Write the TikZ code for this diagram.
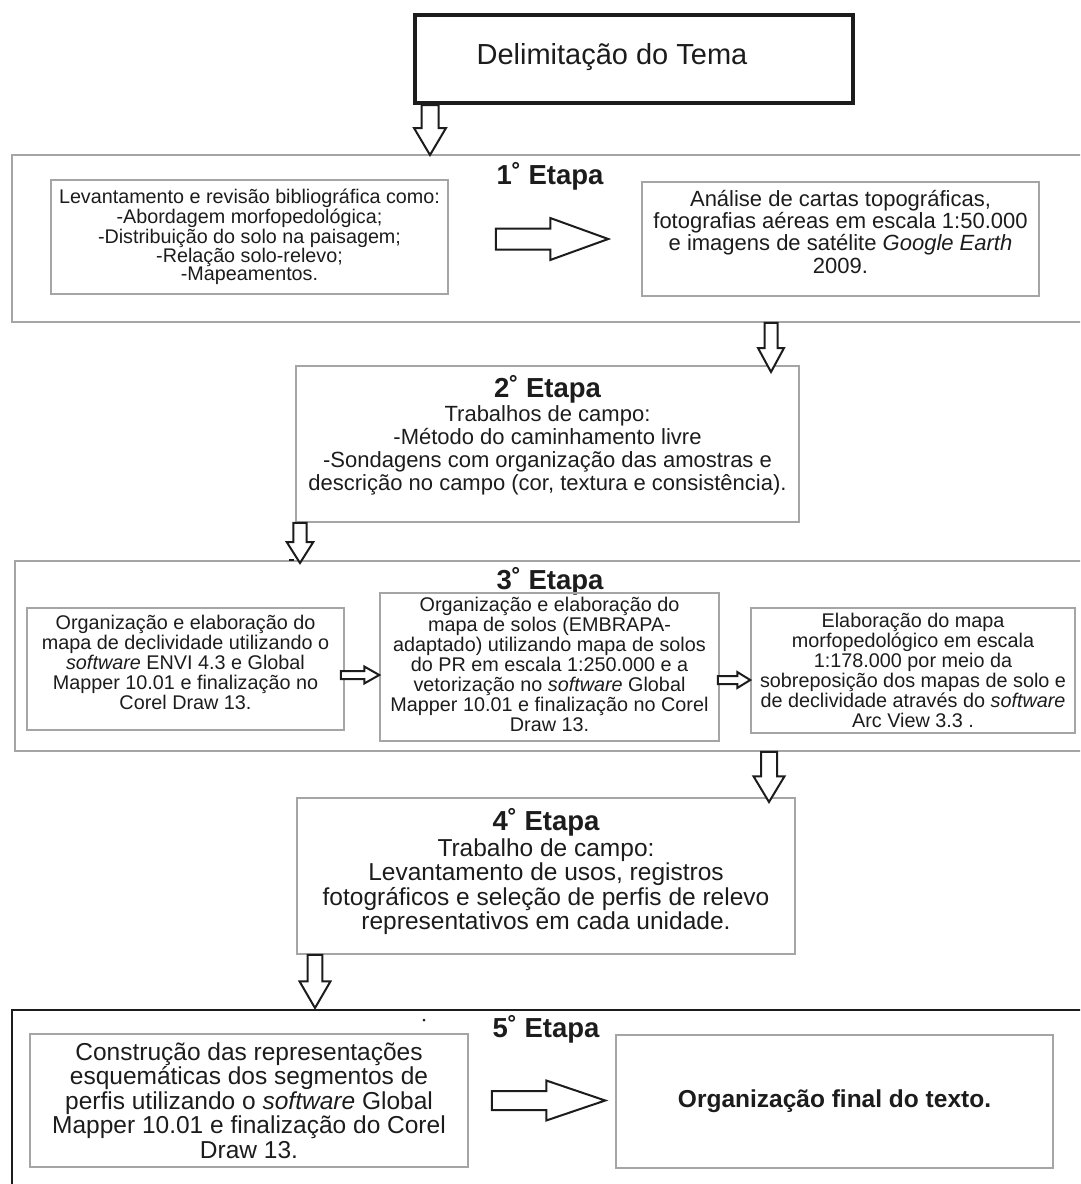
\documentclass[tikz,border=0pt]{standalone}
\usepackage{fontspec}
\setmainfont{Liberation Sans}
\usetikzlibrary{positioning,calc}

\definecolor{ink}{RGB}{28,28,28}
\definecolor{rule}{RGB}{165,165,165}

\newcommand{\flowdown}[5]{%
  \draw[hollow] ($(#1)+(-#3,0)$) -- ($(#2)+(-#3,-#5)$) -- ($(#2)+(-#4,-#5)$) -- (#2)
    -- ($(#2)+(#4,-#5)$) -- ($(#2)+(#3,-#5)$) -- ($(#1)+(#3,0)$) -- cycle;}
\newcommand{\flowright}[5]{%
  \draw[hollow] ($(#1)+(0,-#3)$) -- ($(#2)+(-#5,-#3)$) -- ($(#2)+(-#5,-#4)$) -- (#2)
    -- ($(#2)+(-#5,#4)$) -- ($(#2)+(-#5,#3)$) -- ($(#1)+(0,#3)$) -- cycle;}

\tikzset{
  txt/.style={inner sep=0pt, align=center, text=ink},
  box/.style={txt, draw=rule, line width=1.5pt},
  etapa/.style={inner sep=0pt, text=ink, font=\fontsize{27.5}{30}\selectfont\bfseries},
  hollow/.style={draw=ink, line width=2pt, fill=white, line join=miter},
}

\begin{document}
\begin{tikzpicture}[x=1pt,y=-1pt]
\useasboundingbox (0,0) rectangle (1080,1184);
\clip (0,0) rectangle (1080,1184);

\node[draw=ink, line width=4pt, minimum width=438pt, minimum height=88pt, inner sep=0pt] (tema) at (634,59) {};
\node[txt, font=\fontsize{29}{32}\selectfont] (tematxt) at (612,57) {Delimitação do Tema};

% 1a etapa
\node[box, minimum width=1088pt, minimum height=167pt] (s1) at (556,238.5) {};
\node[etapa] (t1) at (550,176) {1˚ Etapa};
\node[box, minimum width=397pt, minimum height=114pt, font=\fontsize{19.75}{18}\selectfont] (b1a) at (249.5,237)
  {Levantamento e revisão bibliográfica como:\\-Abordagem morfopedológica;\\-Distribuição do solo na paisagem;\\-Relação solo-relevo;\\-Mapeamentos.};
\node[box, minimum width=397pt, minimum height=114pt, text depth=15pt, font=\fontsize{22}{22.3}\selectfont] (b1b) at (840.5,239)
  {Análise de cartas topográficas,\\fotografias aéreas em escala 1:50.000\\e imagens de satélite \textit{Google Earth}\\2009.};
\coordinate (h1s) at ($(b1a.east)+(47,2)$);
\coordinate (h1e) at ($(b1b.west)+(-33,0)$);
\flowright{h1s}{h1e}{10.5}{21}{58}

% 2a etapa
\node[box, minimum width=503pt, minimum height=156pt] (s2) at (547.5,444) {};
\node[etapa, below=9.75pt of s2.north] (t2) {2˚ Etapa};
\node[txt, font=\fontsize{22}{23}\selectfont, below=2pt of t2] (d2)
  {Trabalhos de campo:\\-Método do caminhamento livre\\-Sondagens com organização das amostras e\\descrição no campo (cor, textura e consistência).};

% 3a etapa
\node[box, minimum width=1085pt, minimum height=190pt] (s3) at (557.5,656) {};
\node[etapa] (t3) at (550,581) {3˚ Etapa};
\node[box, minimum width=317pt, minimum height=122pt, text depth=14pt, font=\fontsize{19.8}{20}\selectfont] (b3a) at (185.5,669)
  {Organização e elaboração do\\mapa de declividade utilizando o\\\textit{software} ENVI 4.3 e Global\\Mapper 10.01 e finalização no\\Corel Draw 13.};
\node[box, minimum width=339pt, minimum height=148pt, text depth=6pt, font=\fontsize{19.8}{20}\selectfont] (b3b) at (549.5,667)
  {Organização e elaboração do\\mapa de solos (EMBRAPA-\\adaptado) utilizando mapa de solos\\do PR em escala 1:250.000 e a\\vetorização no \textit{software} Global\\Mapper 10.01 e finalização no Corel\\Draw 13.};
\node[box, minimum width=324pt, minimum height=125pt, font=\fontsize{19.8}{20}\selectfont] (b3c) at (913,670.5)
  {Elaboração do mapa\\morfopedológico em escala\\1:178.000 por meio da\\sobreposição dos mapas de solo e\\de declividade através do \textit{software}\\Arc View 3.3 .};
\coordinate (s31) at ($(b3a.east)+(-4,6)$);
\coordinate (s32) at ($(b3b.west)+(0,8)$);
\flowright{s31}{s32}{4}{8.5}{15}
\coordinate (s33) at ($(b3b.east)+(-2,13)$);
\coordinate (s34) at ($(b3c.west)+(0,9.5)$);
\flowright{s33}{s34}{4}{8}{13}
\draw[ink, line width=1.5pt] (289,560) -- (294,560);

% 4a etapa
\node[box, minimum width=498pt, minimum height=156pt] (s4) at (546,876) {};
\node[etapa, below=10.75pt of s4.north] (t4) {4˚ Etapa};
\node[txt, font=\fontsize{24.5}{24.5}\selectfont, below=2pt of t4] (d4)
  {Trabalho de campo:\\Levantamento de usos, registros\\fotográficos e seleção de perfis de relevo\\representativos em cada unidade.};

% 5a etapa
\node[draw=ink, line width=2.5pt, minimum width=1088pt, minimum height=190pt] (s5) at (556,1105) {};
\node[etapa] (t5) at (546,1029) {5˚ Etapa};
\fill[ink] (424,1020) circle (1.5pt);
\node[box, minimum width=438pt, minimum height=133pt, font=\fontsize{24.5}{24.5}\selectfont] (b5a) at (249,1100.5)
  {Construção das representações\\esquemáticas dos segmentos de\\perfis utilizando o \textit{software} Global\\Mapper 10.01 e finalização do Corel\\Draw 13.};
\node[box, minimum width=437pt, minimum height=133pt, font=\fontsize{24.5}{24.5}\selectfont\bfseries] (b5b) at (834.5,1101.5)
  {Organização final do texto.};
\coordinate (h5s) at ($(b5a.east)+(23,0)$);
\coordinate (h5e) at ($(b5b.west)+(-10,-1)$);
\flowright{h5s}{h5e}{9.5}{20}{59}

% setas entre etapas
\coordinate (a1) at (430,155);
\flowdown{tema.south -| a1}{a1}{8.5}{16}{27}
\coordinate (a2) at (771,372);
\flowdown{s1.south -| a2}{a2}{6.5}{13}{24}
\coordinate (a3) at (300,563);
\flowdown{s2.south -| a3}{a3}{6.7}{13.3}{21}
\coordinate (a4) at (769,802);
\flowdown{s3.south -| a4}{a4}{8}{15.5}{25.7}
\coordinate (a5) at (315,1008);
\flowdown{s4.south -| a5}{a5}{7.3}{15.5}{26.7}
\end{tikzpicture}
\end{document}
